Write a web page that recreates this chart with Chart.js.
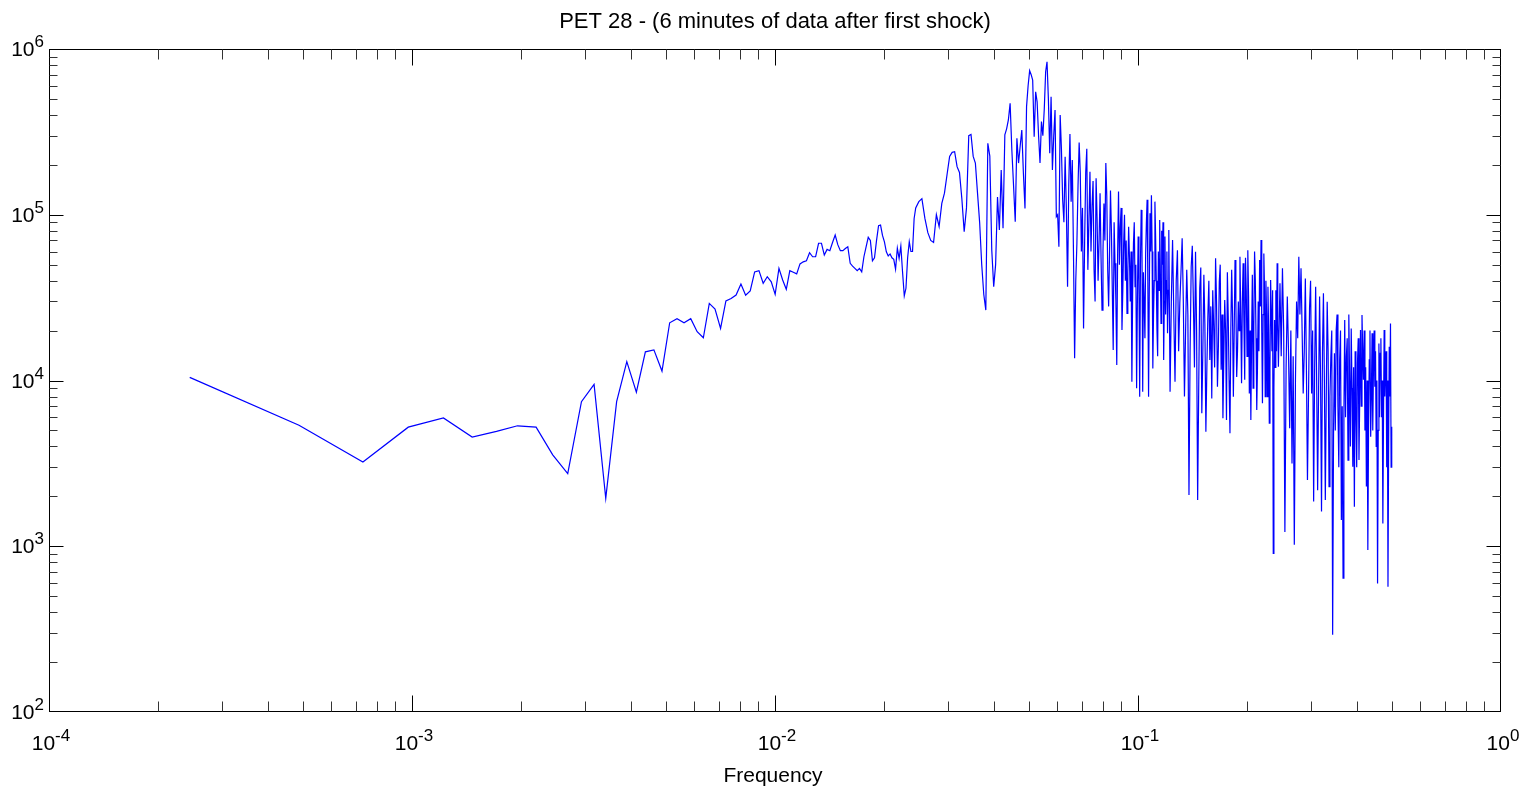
<!DOCTYPE html>
<html>
<head>
<meta charset="utf-8">
<title>PET 28 spectrum</title>
<script src="https://cdn.jsdelivr.net/npm/chart.js@4.4.1/dist/chart.umd.min.js"></script>
<style>
  html, body { margin: 0; padding: 0; background: #fff; }
  #wrap { width: 1533px; height: 791px; }
</style>
</head>
<body>
<div id="wrap"><canvas id="psdChart" width="1533" height="791"></canvas></div>
<script>
// =====================
// PET 28 - spectrum (log-log)
// =====================

// === Data ===
// frequency bins are k / 4096 Hz; the dense part is read every few bins
const DF = 1 / 4096;
const segStart = [1, 100, 250, 502, 1008];
const segStep = [1, 2, 2, 4, 8];

const psdSeg1 = [10450, 5370, 3220, 5230, 5940, 4560, 4930, 5330, 5230, 3560,
    2740, 7450, 9480, 1945, 7450, 13000, 8500, 14900, 15300, 11400,
    22300, 23600, 22300, 23600, 19700, 18100, 29200, 27000, 20600, 30200,
    31200, 32800, 38200, 32700, 34700, 45200, 46000, 38600, 42300, 39400,
    33100, 47500, 40400, 35500, 46000, 45000, 44000, 50500, 52000, 52800,
    59000, 55800, 55800, 67300, 67300, 57100, 61800, 60700, 68000, 75500,
    66000, 60700, 60700, 62500, 64100, 50900, 49000, 47500, 46000, 47500,
    45300, 55800, 64000, 73100, 70000, 52800, 55000, 70000, 86000, 86700,
    75000, 68700, 59800, 56400, 58000, 55000, 53800, 46900, 62800, 54500,
    64700, 45000, 32400, 36000, 55000, 68700, 60000, 60000, 95000];

const psdSeg2 = [110000, 120000, 125000, 95000, 78000, 70000, 68000, 100000, 85000, 117000,
    135000, 175000, 225000, 238000, 240000, 195000, 180000, 125000, 79000, 110000,
    300000, 305000, 225000, 205000, 135000, 90000, 50000, 33000, 26600, 270000,
    226000, 61200, 36800, 50000, 128000, 80900, 186000, 82800, 303000, 330000,
    373000, 470000, 246000, 150000, 90800, 289000, 205000, 260000, 324000, 178000,
    109000, 449000, 600000, 740000, 700000, 650000, 296000, 552000, 480000, 300000,
    205000, 365000, 300000, 432000, 729000, 838000, 500000, 235000, 515000, 186000,
    300000, 428000, 97300, 100000, 64100];

const psdSeg3 = [400000, 250000, 123000, 90000, 224000, 110000, 36800, 150000, 307000, 120000,
    214000, 60000, 13600, 40000, 67300, 150000, 273000, 180000, 60000, 110000,
    20600, 70000, 180000, 250000, 46500, 90000, 182000, 60000, 112000, 160000,
    46500, 30000, 166000, 95000, 40000, 70000, 134600, 55000, 26600, 60000,
    117000, 70000, 205000, 130000, 46500, 28000, 60000, 140000, 80900, 35000,
    15300, 90000, 50900, 30000, 12400, 60000, 138000, 50000, 84700, 110000,
    20200, 35000, 67300, 100000, 40000, 70000, 25400, 45000, 84700, 55000,
    30000, 60000, 9840, 35000, 67300, 90000, 36800, 50000, 8980, 30000,
    73800, 40000, 7980, 50000, 107000, 65000, 8550, 45000, 30000, 18000,
    58400, 90000, 123000, 40000, 7980, 35000, 102000, 60000, 131000, 60000,
    11800, 25000, 40000, 120000, 73800, 40000, 20200, 14000, 60000, 35000,
    92900, 45000, 22100, 80000, 50000, 90000, 13300, 30000, 73800, 25000,
    40000, 60000, 19300, 35000, 80900];

const psdSeg4 = [8550, 30000, 70500, 25000, 9840, 40000, 61000, 15000, 29200, 45000,
    72100, 30000, 8000, 20000, 46500, 25000, 2040, 15000, 48700, 65000,
    30000, 12000, 59800, 20000, 1900, 9000, 36000, 48000, 6340, 15000,
    43400, 22000, 4910, 12000, 24300, 40000, 13300, 28000, 7800, 35000,
    21100, 12000, 54600, 30000, 9180, 16000, 39400, 50000, 11600, 25000,
    5920, 14000, 30600, 20000, 5780, 45000, 24300, 10000, 4800, 20000,
    46500, 25000, 7980, 20000, 53300, 30000, 10500, 15000, 30000, 20000,
    55800, 25000, 9620, 30000, 50900, 22000, 10100, 55000, 35000, 14000,
    61000, 32000, 8360, 20000, 5780, 18000, 43400, 9000, 21100, 60000,
    40400, 18000, 6640, 12000, 30000, 15000, 53300, 28000, 70500, 20000,
    7280, 25000, 58400, 35000, 7980, 40000, 25000, 8000, 36800, 20000,
    5520, 12000, 40400, 25000, 15000, 35000, 906, 9000, 23200, 12000,
    35000, 15000, 50900, 22000, 12100];

const psdSeg5 = [38600, 14000, 47500, 20000, 1220, 12000, 32100, 15000, 5150, 20000,
    3160, 14000, 1020, 10000, 30000, 18000, 55800, 25000, 47500, 20000,
    8360, 15000, 41300, 12000, 2510, 8000, 27300, 40000, 8360, 20000,
    1860, 12000, 36800, 10000, 2180, 9000, 32100, 10000, 1620, 15000,
    33600, 10000, 1900, 8000, 29900, 15000, 2290, 8000, 13900, 20000,
    292, 5000, 14600, 5000, 20200, 25000, 6950, 3000, 13300, 20000,
    1440, 7000, 641, 6000, 23200, 6000, 13900, 18000, 3310, 25000,
    10100, 4000, 20600, 9000, 3020, 12000, 1730, 15000, 6340, 3000,
    12700, 18000, 3310, 8000, 20200, 7000, 24800, 15000, 10100, 20000,
    5000, 12000, 2290, 10000, 948, 5000, 13300, 20000, 4580, 8000,
    19300, 5000, 12000, 20000, 9180, 15000, 4000, 10000, 597, 5000,
    16700, 6000, 14600, 18000, 6000, 10000, 1370, 6000, 20200, 8000,
    11600, 15000, 3000, 10000, 570, 4000, 16000, 8000, 22100, 3000,
    5260];

const xTickExp = [-4, -3, -2, -1, 0];
const yTickExp = [2, 3, 4, 5, 6];
const titleText = "PET 28 - (6 minutes of data after first shock)";
const xLabelText = "Frequency";

// === Build points ===
const psdSegs = [psdSeg1, psdSeg2, psdSeg3, psdSeg4, psdSeg5];
const points = [];
psdSegs.forEach((vals, s) => {
    vals.forEach((v, i) => {
        const k = segStart[s] + i * segStep[s];
        points.push({ x: k * DF, y: v });
    });
});

// === Axes drawn MATLAB style (box, inward ticks, 10^n labels) ===
const FONT = "'Liberation Sans', Arial, sans-serif";

function drawPow(ctx, base, exp, x, y, align) {
    ctx.font = "21px " + FONT;
    const wb = ctx.measureText(base).width;
    ctx.font = "17px " + FONT;
    const we = ctx.measureText(exp).width;
    let x0 = x;
    if (align === "center") x0 = x - (wb + we) / 2;
    if (align === "right") x0 = x - (wb + we);
    ctx.textAlign = "left";
    ctx.font = "21px " + FONT;
    ctx.fillText(base, x0, y);
    ctx.font = "17px " + FONT;
    ctx.fillText(exp, x0 + wb, y - 9);
}

const matlabAxes = {
    id: "matlabAxes",
    afterDatasetsDraw(chart) {
        const { ctx, chartArea: a, scales } = chart;
        const xs = scales.x, ys = scales.y;
        const L = Math.round(a.left) + 0.5;
        const R = Math.round(a.right) - 0.5;
        const T = Math.round(a.top) + 0.5;
        const B = Math.round(a.bottom) - 0.5;
        const clamp = (v, lo, hi) => Math.min(hi, Math.max(lo, v));

        ctx.save();
        ctx.strokeStyle = "#000";
        ctx.lineWidth = 1;
        ctx.strokeRect(L, T, R - L, B - T);

        // x ticks
        xTickExp.forEach((e, i) => {
            for (let m = 1; m <= 9; m++) {
                if (m > 1 && i === xTickExp.length - 1) break;
                let px = Math.round(xs.getPixelForValue(m * Math.pow(10, e))) + 0.5;
                px = clamp(px, L, R);
                const len = m === 1 ? 16 : 10;
                ctx.strokeStyle = m === 1 ? "#000" : "#333";
                ctx.beginPath();
                ctx.moveTo(px, B); ctx.lineTo(px, B - len);
                ctx.moveTo(px, T); ctx.lineTo(px, T + len);
                ctx.stroke();
            }
        });
        // y ticks
        yTickExp.forEach((e, i) => {
            for (let m = 1; m <= 9; m++) {
                if (m > 1 && i === yTickExp.length - 1) break;
                let py = Math.round(ys.getPixelForValue(m * Math.pow(10, e))) + 0.5;
                py = clamp(py, T, B);
                const len = m === 1 ? 14 : 8;
                ctx.strokeStyle = m === 1 ? "#000" : "#333";
                ctx.beginPath();
                ctx.moveTo(L, py); ctx.lineTo(L + len, py);
                ctx.moveTo(R, py); ctx.lineTo(R - len, py);
                ctx.stroke();
            }
        });

        // tick labels
        ctx.fillStyle = "#000";
        ctx.textBaseline = "alphabetic";
        xTickExp.forEach(e => {
            const px = xs.getPixelForValue(Math.pow(10, e));
            drawPow(ctx, "10", String(e), px + 2, 750, "center");
        });
        yTickExp.forEach(e => {
            const py = ys.getPixelForValue(Math.pow(10, e));
            drawPow(ctx, "10", String(e), a.left - 5, py + 7, "right");
        });

        // title and x label
        ctx.textAlign = "center";
        ctx.font = "22px " + FONT;
        ctx.fillText(titleText, (a.left + a.right) / 2, 28);
        ctx.font = "21px " + FONT;
        ctx.fillText(xLabelText, 773, 782);
        ctx.restore();
    }
};

// === Chart ===
const ctx = document.getElementById("psdChart").getContext("2d");
new Chart(ctx, {
    type: "line",
    data: {
        datasets: [{
            data: points,
            borderColor: "#0000ff",
            borderWidth: 1.2,
            pointRadius: 0,
            tension: 0,
            fill: false,
        }, ],
    },
    options: {
        responsive: false,
        animation: false,
        layout: { padding: { left: 49, right: 32, top: 49, bottom: 79 } },
        scales: {
            x: { type: "logarithmic", min: 1e-4, max: 1, display: false },
            y: { type: "logarithmic", min: 100, max: 1e6, display: false },
        },
        plugins: {
            legend: { display: false },
            tooltip: { enabled: false },
        },
    },
    plugins: [matlabAxes],
});
</script>
</body>
</html>
